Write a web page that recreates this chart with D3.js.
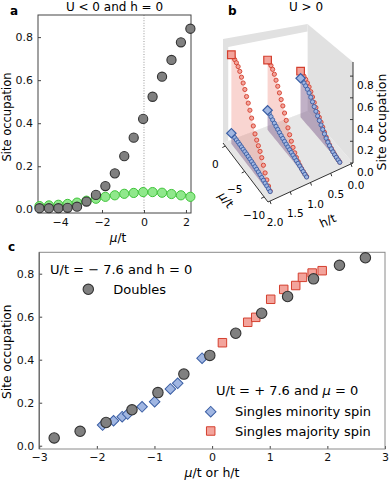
<!DOCTYPE html>
<html>
<head>
<meta charset="utf-8">
<script src="https://cdn.jsdelivr.net/npm/d3@7"></script>
<style>
body { margin: 0; background: #fff; }
svg { font-family: "DejaVu Sans", sans-serif; }
</style>
</head>
<body>
<svg id="fig" width="391" height="481"></svg>
<script>
// doubles, U/t = -7.6, h = 0 (panel a and c)
var muDoubles = [-4.98, -4.53, -4.08, -3.64, -3.19, -2.74, -2.29, -1.84, -1.39, -0.94, -0.49, -0.04, 0.41, 0.86, 1.31, 1.76, 2.21, 2.66];
var doubles   = [0.005, 0.005, 0.005, 0.007, 0.012, 0.036, 0.067, 0.108, 0.167, 0.247, 0.333, 0.42, 0.523, 0.616, 0.694, 0.776, 0.839, 0.874];
// singles (green) in panel a, same mu grid
var singlesA  = [0.015, 0.018, 0.021, 0.025, 0.031, 0.04, 0.049, 0.058, 0.065, 0.072, 0.076, 0.08, 0.08, 0.077, 0.071, 0.065, 0.058];

// panel c singles, U/t = +7.6, mu = 0
var hMinority = [-1.90, -1.71, -1.56, -1.465, -1.215, -0.997, -0.724, -0.597, -0.174];
var minority  = [0.096, 0.116, 0.135, 0.147, 0.181, 0.205, 0.264, 0.290, 0.407];
var hMajority = [0.179, 0.618, 0.757, 1.017, 1.243, 1.451, 1.568, 1.736, 1.91];
var majority  = [0.479, 0.574, 0.597, 0.681, 0.727, 0.745, 0.783, 0.803, 0.814];

// panel b, U > 0 : occupation vs mu/t at three fields
var bMu = [0, -0.43, -0.87, -1.3, -1.74, -2.17, -2.61, -3.04, -3.48, -3.91, -4.35, -4.78, -5.22, -5.65, -6.09, -6.52, -6.96, -7.39, -7.83, -8.26, -8.7, -9.13, -9.57, -10];
var bFields = [0.18, 1.0, 1.9];
var majH018 = [0.478, 0.472, 0.462, 0.447, 0.428, 0.405, 0.375, 0.34, 0.303, 0.27, 0.24, 0.21, 0.182, 0.152, 0.122, 0.095, 0.073, 0.056, 0.042, 0.031, 0.022, 0.015, 0.009, 0.005];
var minH018 = [0.405, 0.4, 0.392, 0.38, 0.364, 0.345, 0.32, 0.292, 0.262, 0.234, 0.207, 0.18, 0.155, 0.13, 0.106, 0.083, 0.064, 0.049, 0.037, 0.027, 0.019, 0.013, 0.008, 0.004];
var majH10  = [0.675, 0.668, 0.655, 0.635, 0.605, 0.565, 0.525, 0.48, 0.435, 0.393, 0.345, 0.295, 0.245, 0.2, 0.16, 0.122, 0.092, 0.068, 0.05, 0.036, 0.026, 0.018, 0.013, 0.01];
var minH10  = [0.19, 0.178, 0.166, 0.154, 0.142, 0.131, 0.121, 0.111, 0.102, 0.093, 0.085, 0.078, 0.071, 0.065, 0.059, 0.053, 0.047, 0.041, 0.035, 0.029, 0.023, 0.017, 0.011, 0.006];
var majH19  = [0.8, 0.795, 0.787, 0.775, 0.757, 0.73, 0.695, 0.66, 0.62, 0.575, 0.535, 0.49, 0.44, 0.39, 0.34, 0.305, 0.275, 0.245, 0.21, 0.165, 0.12, 0.08, 0.048, 0.025];
var minH19  = [0.095, 0.094, 0.093, 0.092, 0.091, 0.089, 0.087, 0.085, 0.083, 0.081, 0.078, 0.075, 0.072, 0.069, 0.065, 0.061, 0.057, 0.052, 0.047, 0.042, 0.036, 0.031, 0.026, 0.021];

var yTicks = [0, 0.2, 0.4, 0.6, 0.8];

var grayFill = "#808080", grayLine = "#333";
var redFill = "#f3a49c", redLine = "#d43f2e";
var blueFill = "#a0b6e2", blueLine = "#3a5ea4";

var svg = d3.select("#fig");

function styleAxis(g, size) {
  g.select(".domain").remove();
  g.selectAll(".tick line").attr("stroke", "#444");
  g.selectAll(".tick text").attr("font-size", size).attr("fill", "#111").attr("font-family", "DejaVu Sans, sans-serif");
}

// ================= panel a =================
var a = {l: 38, r: 191, t: 15, b: 213};
var xA = d3.scaleLinear().domain([-5.05, 2.24]).range([a.l, a.r]);
var yA = d3.scaleLinear().domain([-0.0172, 0.9028]).range([a.b, a.t]);

var gA = svg.append("g");
gA.append("line")
  .attr("x1", xA(0)).attr("x2", xA(0)).attr("y1", a.t).attr("y2", a.b)
  .attr("stroke", "#999").attr("stroke-dasharray", "1,1.6");

gA.append("g").attr("transform", "translate(0," + a.b + ")")
  .call(d3.axisBottom(xA).tickValues([-4, -2, 0, 2]).tickFormat(d3.format("d")).tickSizeInner(-3).tickSizeOuter(0).tickPadding(5))
  .call(styleAxis, 11);
gA.append("g").attr("transform", "translate(" + a.l + ",0)")
  .call(d3.axisLeft(yA).tickValues(yTicks).tickFormat(d3.format(".1f")).tickSizeInner(-3).tickSizeOuter(0).tickPadding(5))
  .call(styleAxis, 11);

gA.append("rect").attr("x", a.l).attr("y", a.t).attr("width", a.r - a.l).attr("height", a.b - a.t)
  .attr("fill", "none").attr("stroke", "#444").attr("stroke-width", 1);

gA.selectAll(".green").data(singlesA).enter().append("circle")
  .attr("cx", function(d, i) { return xA(muDoubles[i]); })
  .attr("cy", function(d) { return yA(d); })
  .attr("r", 4.6).attr("fill", "#90e88c").attr("stroke", "#3fc43a").attr("stroke-width", 1);

var doublesA = muDoubles.map(function(m, i) { return {mu: m, n: doubles[i]}; })
  .filter(function(d) { return d.mu >= xA.domain()[0] && d.mu <= xA.domain()[1]; });
gA.selectAll(".dbl").data(doublesA).enter().append("circle")
  .attr("cx", function(d) { return xA(d.mu); })
  .attr("cy", function(d) { return yA(d.n); })
  .attr("r", 4.6).attr("fill", grayFill).attr("stroke", grayLine).attr("stroke-width", 1.1);

gA.append("text").attr("x", (a.l + a.r) / 2).attr("y", 10.5).attr("text-anchor", "middle")
  .attr("font-size", 12).text("U < 0 and h = 0");
gA.append("text").attr("x", 10).attr("y", 15).attr("font-size", 12).attr("font-weight", "bold").text("a");
gA.append("text").attr("transform", "translate(10.5,117) rotate(-90)").attr("text-anchor", "middle")
  .attr("font-size", 11.5).text("Site occupation");
var xlA = gA.append("text").attr("x", 118).attr("y", 241.5).attr("text-anchor", "middle").attr("font-size", 12);
xlA.append("tspan").attr("font-style", "italic").text("\u03bc");
xlA.append("tspan").text("/t");

// ================= panel b (3D) =================
var bMuScale = d3.scaleLinear().domain([0.6, -11]).range([0, 1]);   // back -> front
var bHScale = d3.scaleLinear().domain([-0.05, 2.05]).range([0, 1]); // back -> front
var zTop = 0.93;
var cBack = [307.5, 111], cRight = [353, 163], cLeft = [223, 143], cFront = [268, 202];
var kBack = 93.5, kRight = 108.6, kLeft = 111.8, kFront = 126.9;

function proj(mu, h, z) {
  var u = bMuScale(mu), v = bHScale(h);
  var wb = (1 - u) * (1 - v), wr = u * (1 - v), wl = (1 - u) * v, wf = u * v;
  var x = wb * cBack[0] + wr * cRight[0] + wl * cLeft[0] + wf * cFront[0];
  var y = wb * cBack[1] + wr * cRight[1] + wl * cLeft[1] + wf * cFront[1];
  var k = wb * kBack + wr * kRight + wl * kLeft + wf * kFront;
  return [x, y - k * z];
}
var muLo = bMuScale.domain()[1], muHi = bMuScale.domain()[0];
var hLo = bHScale.domain()[0], hHi = bHScale.domain()[1];

var gB = svg.append("g");
var line = d3.line();
function poly(pts, fill) {
  return gB.append("path").attr("d", line(pts) + "Z").attr("fill", fill);
}
// panes
poly([proj(muHi, hLo, 0), proj(muHi, hHi, 0), proj(muHi, hHi, zTop), proj(muHi, hLo, zTop)], "#e1e1e1");
poly([proj(muHi, hLo, 0), proj(muLo, hLo, 0), proj(muLo, hLo, zTop), proj(muHi, hLo, zTop)], "#e1e1e1");
poly([proj(muHi, hLo, 0), proj(muHi, 1.92, 0), proj(muHi, 1.92, 0.85), proj(muHi, hLo, 0.85)], "#ffffff");
poly([proj(muHi, hLo, 0), proj(muLo, hLo, 0), proj(muLo, hHi, 0), proj(muHi, hHi, 0)], "#e6e6e6");

// axis lines
gB.append("path").attr("d", line([proj(muHi, hHi, 0), proj(muLo, hHi, 0), proj(muLo, hLo, 0), proj(muLo, hLo, zTop)]))
  .attr("fill", "none").attr("stroke", "#333").attr("stroke-width", 1);

// mu ticks
[0, -5, -10].forEach(function(m) {
  var p = proj(m, hHi, 0);
  gB.append("line").attr("x1", p[0]).attr("y1", p[1]).attr("x2", p[0] - 3).attr("y2", p[1] + 1.5).attr("stroke", "#333");
  gB.append("text").attr("x", p[0] - 10).attr("y", p[1] + 22).attr("text-anchor", "middle")
    .attr("font-size", 10.5).text(d3.format("d")(m));
});
// h ticks
[0, 0.5, 1, 1.5, 2].forEach(function(h) {
  var p = proj(muLo, h, 0);
  gB.append("line").attr("x1", p[0]).attr("y1", p[1]).attr("x2", p[0] + 1).attr("y2", p[1] + 3).attr("stroke", "#333");
  gB.append("text").attr("x", p[0] + 5).attr("y", p[1] + 25).attr("text-anchor", "middle")
    .attr("font-size", 10.5).text(d3.format(".1f")(h));
});
// z ticks
yTicks.forEach(function(z) {
  var p = proj(muLo, hLo, z);
  gB.append("line").attr("x1", p[0]).attr("y1", p[1]).attr("x2", p[0] - 3).attr("y2", p[1]).attr("stroke", "#333");
  gB.append("text").attr("x", p[0] + 4).attr("y", p[1] + 13).attr("font-size", 10.5).text(d3.format(".1f")(z));
});

var muLab = proj(-5, hHi, 0);
var tb = gB.append("text").attr("transform", "translate(" + (muLab[0] - 22) + "," + (muLab[1] + 31) + ") rotate(52)")
  .attr("text-anchor", "middle").attr("font-size", 12);
tb.append("tspan").attr("font-style", "italic").text("\u03bc");
tb.append("tspan").text("/t");
var hLab = proj(muLo, 1.0, 0);
gB.append("text").attr("transform", "translate(" + (hLab[0] + 19) + "," + (hLab[1] + 42) + ") rotate(-25)")
  .attr("text-anchor", "middle").attr("font-size", 12).text("h/t");
gB.append("text").attr("transform", "translate(386,122) rotate(-90)").attr("text-anchor", "middle")
  .attr("font-size", 12.5).text("Site occupation");
gB.append("text").attr("x", 228).attr("y", 15).attr("font-size", 12).attr("font-weight", "bold").text("b");
gB.append("text").attr("x", 306).attr("y", 11).attr("text-anchor", "middle").attr("font-size", 12).text("U > 0");

var curves = [
  {h: bFields[0], maj: majH018, min: minH018},
  {h: bFields[1], maj: majH10, min: minH10},
  {h: bFields[2], maj: majH19, min: minH19}
];
var sqr = d3.symbol(d3.symbolSquare, 58)();
var dia = d3.symbol(d3.symbolSquare, 44)();

curves.forEach(function(c) {
  function curtain(vals) {
    var top = bMu.map(function(m, i) { return proj(m, c.h, vals[i]); });
    var base = bMu.slice().reverse().map(function(m) { return proj(m, c.h, 0); });
    return top.concat(base);
  }
  poly(curtain(c.maj), "rgba(232,104,90,0.28)");
  poly(curtain(c.min), "rgba(80,104,180,0.33)");

  [[c.maj, redFill, redLine], [c.min, blueFill, blueLine]].forEach(function(s) {
    gB.selectAll(null).data(s[0].slice(1)).enter().append("circle")
      .attr("cx", function(d, i) { return proj(bMu[i + 1], c.h, d)[0]; })
      .attr("cy", function(d, i) { return proj(bMu[i + 1], c.h, d)[1]; })
      .attr("r", 2.1).attr("fill", s[1]).attr("stroke", s[2]).attr("stroke-width", 0.9);
  });
  var pR = proj(bMu[0], c.h, c.maj[0]);
  gB.append("path").attr("d", sqr).attr("transform", "translate(" + pR[0] + "," + pR[1] + ")")
    .attr("fill", redFill).attr("stroke", redLine).attr("stroke-width", 1.2);
  var pB = proj(bMu[0], c.h, c.min[0]);
  gB.append("path").attr("d", dia).attr("transform", "translate(" + pB[0] + "," + pB[1] + ") rotate(45)")
    .attr("fill", blueFill).attr("stroke", blueLine).attr("stroke-width", 1.2);
});

// ================= panel c =================
var c = {l: 39.2, r: 385, t: 252.3, b: 449};
var xC = d3.scaleLinear().domain([-3, 3]).range([c.l, c.r]);
var yC = d3.scaleLinear().domain([-0.0153, 0.8995]).range([c.b, c.t]);

var gC = svg.append("g");
gC.append("g").attr("transform", "translate(0," + c.b + ")")
  .call(d3.axisBottom(xC).tickValues([-3, -2, -1, 0, 1, 2, 3]).tickFormat(d3.format("d")).tickSizeInner(-3).tickSizeOuter(0).tickPadding(4))
  .call(styleAxis, 11);
gC.append("g").attr("transform", "translate(" + c.l + ",0)")
  .call(d3.axisLeft(yC).tickValues(yTicks).tickFormat(d3.format(".1f")).tickSizeInner(-3).tickSizeOuter(0).tickPadding(5))
  .call(styleAxis, 11);
gC.append("rect").attr("x", c.l).attr("y", c.t).attr("width", c.r - c.l).attr("height", c.b - c.t)
  .attr("fill", "none").attr("stroke", "#8a8a8a").attr("stroke-width", 1);
gC.append("line").attr("x1", c.l).attr("x2", c.l).attr("y1", c.t).attr("y2", c.b).attr("stroke", "#555");

var diaC = d3.symbol(d3.symbolSquare, 56)();
var sqrC = d3.symbol(d3.symbolSquare, 72)();

gC.selectAll(".mi").data(minority).enter().append("path")
  .attr("d", diaC)
  .attr("transform", function(d, i) { return "translate(" + xC(hMinority[i]) + "," + yC(d) + ") rotate(45)"; })
  .attr("fill", blueFill).attr("stroke", blueLine).attr("stroke-width", 1);
gC.selectAll(".ma").data(majority).enter().append("path")
  .attr("d", sqrC)
  .attr("transform", function(d, i) { return "translate(" + xC(hMajority[i]) + "," + yC(d) + ")"; })
  .attr("fill", redFill).attr("stroke", redLine).attr("stroke-width", 1);
var doublesC = muDoubles.map(function(m, i) { return {mu: m, n: doubles[i]}; })
  .filter(function(d) { return d.mu >= -3 && d.mu <= 3; });
gC.selectAll(".dc").data(doublesC).enter().append("circle")
  .attr("cx", function(d) { return xC(d.mu); })
  .attr("cy", function(d) { return yC(d.n); })
  .attr("r", 5.2).attr("fill", grayFill).attr("stroke", grayLine).attr("stroke-width", 1.1);

// legends
gC.append("text").attr("x", 50).attr("y", 274).attr("font-size", 13)
  .text("U/t = \u2212 7.6 and h = 0");
gC.append("circle").attr("cx", 88.3).attr("cy", 289.3).attr("r", 5.2)
  .attr("fill", grayFill).attr("stroke", grayLine).attr("stroke-width", 1.1);
gC.append("text").attr("x", 113.3).attr("y", 294).attr("font-size", 13).text("Doubles");

var l2 = gC.append("text").attr("x", 216).attr("y", 395).attr("font-size", 13);
l2.append("tspan").text("U/t = + 7.6 and ");
l2.append("tspan").attr("font-style", "italic").text("\u03bc");
l2.append("tspan").text(" = 0");
gC.append("path").attr("d", diaC).attr("transform", "translate(210.7,411.7) rotate(45)")
  .attr("fill", blueFill).attr("stroke", blueLine).attr("stroke-width", 1);
gC.append("text").attr("x", 235).attr("y", 416.3).attr("font-size", 13).text("Singles minority spin");
gC.append("path").attr("d", sqrC).attr("transform", "translate(210.7,431)")
  .attr("fill", redFill).attr("stroke", redLine).attr("stroke-width", 1);
gC.append("text").attr("x", 235).attr("y", 435.6).attr("font-size", 13).text("Singles majority spin");

gC.append("text").attr("x", 8).attr("y", 251).attr("font-size", 12).attr("font-weight", "bold").text("c");
gC.append("text").attr("transform", "translate(10.5,351.7) rotate(-90)").attr("text-anchor", "middle")
  .attr("font-size", 12.2).text("Site occupation");
var xlC = gC.append("text").attr("x", 212).attr("y", 476.5).attr("text-anchor", "middle").attr("font-size", 12.5);
xlC.append("tspan").attr("font-style", "italic").text("\u03bc");
xlC.append("tspan").text("/t or h/t");
</script>
</body>
</html>
